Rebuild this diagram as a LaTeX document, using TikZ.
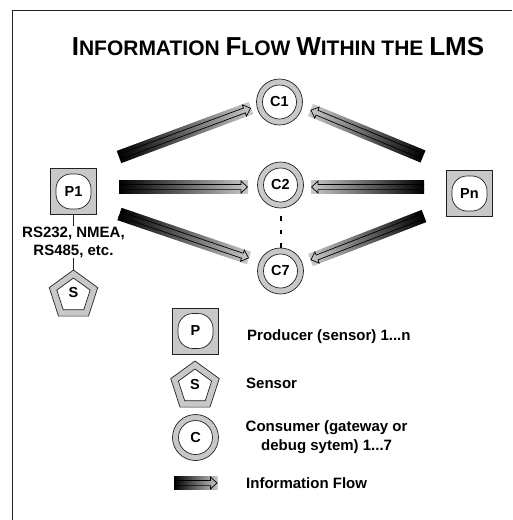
\documentclass[tikz,border=0pt]{standalone}
\usepackage{fontspec}
\setmainfont{Liberation Sans}
\usetikzlibrary{calc,shapes.geometric}
\definecolor{ringgray}{HTML}{C8C8C8}
\definecolor{edgegray}{HTML}{222222}
\tikzset{
  frameline/.style={draw=edgegray,line width=0.9pt},
  sqbox/.style={draw=edgegray,fill=ringgray,line width=0.7pt,minimum size=46pt,inner sep=0pt,shape=rectangle},
  inbox/.style={draw=edgegray,fill=white,line width=0.7pt,minimum size=35pt,inner sep=0pt,shape=rectangle,rounded corners=15pt,font=\fontsize{14.5}{14.5}\bfseries},
  ringo/.style={draw=edgegray,fill=ringgray,line width=0.7pt,circle,minimum size=46pt,inner sep=0pt},
  ringi/.style={draw=edgegray,fill=white,line width=0.7pt,circle,minimum size=34pt,inner sep=0pt,font=\fontsize{14.5}{14.5}\bfseries},
  pento/.style={draw=edgegray,fill=ringgray,line width=0.7pt,regular polygon,regular polygon sides=5,minimum size=51pt,inner sep=0pt},
  penti/.style={draw=edgegray,fill=white,line width=0.7pt,regular polygon,regular polygon sides=5,minimum size=35pt,inner sep=0pt},
  pentl/.style={font=\fontsize{14.5}{14.5}\bfseries,inner sep=0pt},
  lab/.style={font=\fontsize{15}{18}\bfseries,inner sep=0pt,anchor=west},
  tie/.style={draw=edgegray,line width=0.7pt},
  flowhead/.style={draw=black,line width=0.7pt,line join=miter}
}
% #1 tail coordinate, #2 head coordinate
\newcommand{\flowarrow}[2]{%
  \pgfpointdiff{\pgfpointanchor{#1}{center}}{\pgfpointanchor{#2}{center}}%
  \pgfgetlastxy{\fdx}{\fdy}%
  \pgfmathsetmacro{\fang}{atan2(\fdy,\fdx)}%
  \pgfmathsetmacro{\flen}{veclen(\fdx,\fdy)}%
  \begin{scope}[transform canvas={shift={(#1)},rotate=\fang}]
    \shade[left color=black,right color=ringgray] (0,-6.5) rectangle (\flen,6.5);
    \draw[flowhead] (0,-2.6) -- (\flen-7,-2.6) -- (\flen-7,-6) -- (\flen-0.5,0) -- (\flen-7,6) -- (\flen-7,2.6) -- (0,2.6);
  \end{scope}
}
\begin{document}
\begin{tikzpicture}[x=1pt,y=-1pt]
\useasboundingbox (0,0) rectangle (512,520);
\fill[white] (0,0) rectangle (512,520);
\draw[frameline] (12.5,520) -- (12.5,10.5) -- (512,10.5);

\node[inner sep=0pt,anchor=base] (title) at (278,55) {\bfseries\fontsize{26}{26}\selectfont I\fontsize{21}{26}\selectfont NFORMATION \fontsize{26}{26}\selectfont F\fontsize{21}{26}\selectfont LOW \fontsize{26}{26}\selectfont W\fontsize{21}{26}\selectfont ITHIN THE \fontsize{26}{26}\selectfont LMS};

% Producers
\node[sqbox] (p1) at (73.5,191.5) {};
\node[inbox] (p1i) at (p1) {P1};
\node[sqbox] (pn) at (469.5,193.5) {};
\node[inbox] (pni) at (pn) {Pn};

% Consumers
\node[ringo] (c1) at (279.5,102) {};
\node[ringi] (c1i) at (c1) {C1};
\node[ringo] (c2) at (280.5,185) {};
\node[ringi] (c2i) at (c2) {C2};
\node[ringo] (c7) at (280.5,271) {};
\node[ringi] (c7i) at (c7) {C7};

% Sensor under P1
\node[pento] (s) at (73.5,295.5) {};
\node[penti] (si) at (73.5,295.5) {};
\node[pentl] (st) at (73.5,293) {S};
\node[font=\fontsize{15}{18}\bfseries,inner sep=0pt,align=center] (bus) at (73.5,242) {RS232, NMEA,\\RS485, etc.};
\draw[tie] (p1.south) -- (bus.north);
\draw[tie] (bus.south) -- (s.corner 1);

% C2 to C7 dashes
\draw[draw=black,line width=2pt,dash pattern=on 4.5pt off 9pt] ($(c2.south)+(0,8)$) -- (c7.north);

% Flows
\coordinate (t1) at (119,157);   \coordinate (h1) at (251,108);
\coordinate (t2) at (119,187);   \coordinate (h2) at (248,187);
\coordinate (t3) at (119.5,214); \coordinate (h3) at (249,258);
\coordinate (t4) at (423,156.5); \coordinate (h4) at (310.5,110);
\coordinate (t5) at (424,187);   \coordinate (h5) at (311,187);
\coordinate (t6) at (424,216);   \coordinate (h6) at (310.5,260);
\flowarrow{t1}{h1}
\flowarrow{t2}{h2}
\flowarrow{t3}{h3}
\flowarrow{t4}{h4}
\flowarrow{t5}{h5}
\flowarrow{t6}{h6}

% Legend
\node[sqbox] (lp) at (195.5,331) {};
\node[inbox] (lpi) at (lp) {P};
\node[pento] (ls) at (195,386.5) {};
\node[penti] (lsi) at (195,386.5) {};
\node[pentl] (lst) at (195,385) {S};
\node[ringo] (lc) at (195.5,437.5) {};
\node[ringi] (lci) at (lc) {C};
\coordinate (t7) at (174,483); \coordinate (h7) at (217.5,483);
\flowarrow{t7}{h7}

\node[lab] (l1) at (247,337) {Producer (sensor) 1...n};
\node[lab] (l2) at (246,383) {Sensor};
\node[lab] (l3) at (245.5,428) {Consumer (gateway or};
\node[lab] (l4) at (261,447) {debug sytem) 1...7};
\node[lab] (l5) at (246,483) {Information Flow};
\end{tikzpicture}
\end{document}
